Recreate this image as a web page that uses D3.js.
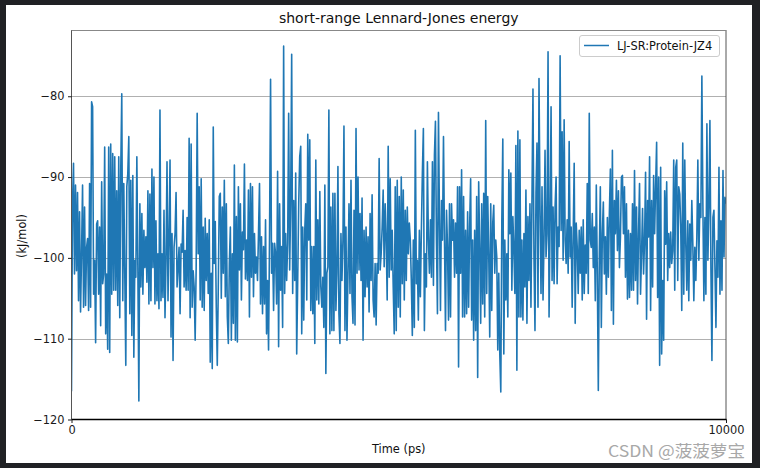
<!DOCTYPE html>
<html><head><meta charset="utf-8">
<script src="https://cdn.jsdelivr.net/npm/d3@7"></script>
<style>html,body{margin:0;padding:0;background:#202124;} svg{display:block}</style>
</head><body><svg id="c" width="760" height="468"></svg>
<script>
const title = "short-range Lennard-Jones energy";
const xLabel = "Time (ps)";
const yLabel = "(kJ/mol)";
const seriesName = "LJ-SR:Protein-JZ4";
const watermark = "CSDN @菠菠萝宝";
const xTicks = [0, 10000];
const yTicks = [-120, -110, -100, -90, -80];
const timeRange = [0, 10000];
const yRange = [-120, -71.8];

const energyA = [-116.5,-93.3,-88.3,-102.0,-91.0,-101.6,-91.9,-105.3,-94.3,-106.7,-99.5,-91.0,-106.1,-93.7,-105.9,-98.7,-97.6,-106.5,-90.8,-106.1,-80.7,-81.3,-104.5,-100.3,-110.5,-95.8,-95.4,-104.5,-96.2,-108.4,-90.6,-103.2,-102.0,-86.3,-109.4,-102.0,-111.3,-86.3,-111.7,-85.9,-104.5,-87.1,-104.0,-87.5,-104.0,-91.7,-105.9,-87.5,-107.4,-89.2,-79.7,-105.3,-90.8,-102.0,-113.3,-91.2,-89.6,-85.0,-106.9,-90.4,-109.6,-89.8,-112.3,-100.3,-102.4,-87.5,-101.2,-117.7,-93.3,-103.6,-94.5,-104.5,-96.6,-101.2,-97.4,-103.0,-91.7,-105.7,-92.1,-105.3,-89.0,-101.2,-90.0,-105.7,-95.4,-105.3,-99.5,-106.3,-81.7,-105.3,-99.5,-104.9,-94.1,-107.4,-100.3,-88.1,-105.3,-97.4,-87.9,-109.8,-97.0,-112.7,-98.7,-97.0,-91.9,-103.6,-101.2,-98.7,-106.9,-98.3,-99.3,-94.1,-103.6,-99.1,-104.0,-95.0,-104.0,-85.2,-107.4,-85.9,-106.1,-101.6,-103.6,-110.2,-101.2];
const energyB = [-82.1,-99.5,-91.2,-105.2,-90.2,-106.1,-96.2,-106.5,-95.1,-102.8,-97.0,-104.4,-95.3,-112.9,-101.9,-113.7,-83.8,-100.7,-95.5,-106.1,-113.3,-103.6,-92.4,-92.0,-105.0,-93.7,-101.9,-90.4,-104.8,-93.3,-107.3,-110.6,-100.7,-96.2,-110.2,-99.5,-108.1,-88.5,-110.2,-94.9,-110.4,-91.2,-101.5,-93.3,-105.2,-96.8,-99.0,-88.4,-102.6,-97.8,-102.8,-91.6,-107.3,-90.8,-102.4,-91.2,-104.8,-97.0,-101.9,-99.9,-102.8,-97.0,-90.8,-105.7,-97.4,-106.9,-98.6,-105.7,-95.3,-109.4,-102.8,-111.4,-97.0,-77.9,-101.9,-98.2,-106.5,-98.2,-99.5,-105.7,-89.3,-111.0,-93.3,-104.0,-98.6,-108.6,-73.8,-104.4,-97.0,-102.8,-98.2,-82.1,-101.5,-93.3,-74.8,-104.4,-92.9,-102.8,-89.5,-111.9,-102.8,-93.3,-87.5,-86.2,-109.4,-96.2,-107.7,-96.6,-93.3,-105.2,-84.7,-97.8,-85.4,-106.5,-98.6,-106.9,-98.6,-110.6,-87.9,-105.2,-95.3,-105.7,-91.8,-103.6,-106.1,-102.4,-108.6,-91.0,-114.3,-101.9];
const energyC = [-101.1,-81.7,-109.4,-93.7,-109.0,-92.0,-109.0,-92.0,-106.5,-101.9,-88.7,-106.9,-110.6,-97.0,-102.8,-97.8,-83.7,-109.0,-96.2,-110.2,-101.9,-93.3,-104.4,-90.4,-104.8,-108.1,-94.1,-108.3,-84.0,-101.9,-90.0,-101.5,-94.5,-102.8,-92.6,-110.2,-96.6,-104.8,-96.2,-103.6,-97.4,-106.7,-94.5,-102.8,-92.2,-105.2,-107.3,-100.7,-108.3,-100.7,-101.9,-87.7,-101.5,-99.5,-96.2,-91.6,-101.1,-93.3,-97.8,-105.2,-86.2,-102.4,-90.2,-101.5,-96.6,-103.6,-109.4,-91.2,-109.0,-90.4,-106.1,-92.4,-107.3,-90.0,-103.2,-91.6,-105.2,-94.1,-102.8,-93.7,-99.5,-95.7,-97.8,-102.8,-109.6,-97.8,-108.6,-84.2,-103.2,-100.3,-107.7,-96.6,-104.8,-96.6,-89.5,-84.0,-109.0,-99.5,-103.6,-88.1,-97.8,-101.9,-95.3,-102.4,-88.1,-103.4,-87.3,-83.1,-97.8,-106.9,-82.0,-95.3,-106.5,-92.9,-97.8,-85.0,-97.8,-109.0,-94.1,-98.6,-107.7,-93.3,-107.3,-93.3,-97.8,-95.3,-102.4,-95.7,-101.9,-91.2,-113.5];
const energyD = [-91.2,-101.9,-89.1,-107.3,-92.4,-107.3,-96.6,-106.9,-94.3,-106.1,-96.2,-90.2,-107.7,-97.8,-110.2,-96.6,-109.0,-92.4,-114.8,-90.6,-98.6,-108.1,-93.3,-105.7,-92.0,-107.3,-83.0,-104.4,-92.4,-99.5,-109.8,-93.3,-106.5,-95.7,-93.5,-101.9,-97.8,-99.9,-111.4,-101.9,-111.9,-116.6,-95.7,-85.3,-111.9,-97.8,-105.2,-99.5,-107.3,-89.1,-97.0,-89.5,-104.0,-94.9,-99.0,-104.4,-86.1,-113.9,-84.3,-107.3,-85.4,-107.3,-97.8,-107.7,-97.0,-103.6,-91.6,-108.1,-94.9,-102.8,-93.3,-106.1,-92.9,-79.1,-99.9,-109.0,-92.0,-85.8,-106.1,-77.8,-93.7,-104.4,-91.2,-105.2,-97.8,-86.7,-99.9,-97.0,-74.5,-107.3,-96.2,-81.3,-102.8,-93.7,-103.2,-93.7,-90.0,-103.2,-96.2,-98.6,-75.0,-96.6,-84.4,-100.3,-82.9,-97.8,-100.7,-95.3,-101.9,-85.6,-99.9,-96.2,-106.1,-97.4,-88.3,-108.1,-95.7,-98.6,-104.4,-96.6,-101.9,-96.2,-105.2,-95.3,-104.4,-98.4,-101.9,-90.8,-104.4,-82.1,-97.8];
const energyE = [-98.7,-94.5,-101.2,-96.2,-105.3,-91.0,-102.0,-116.4,-99.5,-91.2,-108.6,-97.0,-93.1,-102.0,-97.4,-104.5,-95.0,-102.4,-94.5,-89.0,-106.5,-86.7,-108.2,-92.9,-97.0,-90.4,-99.1,-91.7,-101.2,-97.4,-90.0,-89.8,-97.0,-91.2,-102.4,-93.3,-105.1,-96.6,-104.9,-97.0,-104.0,-93.3,-104.0,-89.2,-102.8,-93.7,-105.7,-97.0,-90.8,-104.5,-99.5,-93.9,-102.0,-97.9,-89.4,-107.6,-92.9,-97.4,-87.5,-106.5,-92.9,-103.6,-89.8,-97.0,-91.2,-85.7,-104.9,-90.0,-113.3,-88.8,-111.9,-102.8,-110.2,-91.7,-98.3,-90.6,-102.8,-97.0,-101.2,-96.8,-100.7,-99.1,-87.9,-104.0,-88.8,-87.9,-102.8,-91.2,-92.1,-96.2,-106.5,-85.8,-104.5,-87.9,-98.3,-104.0,-95.4,-105.3,-95.8,-100.3,-92.9,-98.3,-105.3,-98.7,-102.8,-97.4,-87.9,-100.3,-93.3,-95.0,-77.5,-93.3,-105.3,-95.0,-104.5,-83.4,-100.3,-93.7,-83.0,-101.2,-112.7,-95.0,-94.1,-101.2,-108.6,-97.9,-102.4,-88.8,-104.5,-95.4,-104.0,-89.2,-99.9,-92.5,-93.3];

const energy = energyA.concat(energyB, energyC, energyD, energyE);
const step = (timeRange[1] - timeRange[0]) / (energy.length - 1);
const data = energy.map((v, i) => ({t: timeRange[0] + i * step, v}));

const svg = d3.select("#c");
const font = "'DejaVu Sans', sans-serif";
const L = 71.5, R = 726, T = 30, B = 419.5;

svg.append("rect").attr("x", 6).attr("y", 5).attr("width", 746).attr("height", 458).attr("fill", "#ffffff");

const x = d3.scaleLinear().domain(timeRange).range([L, R]);
const y = d3.scaleLinear().domain(yRange).range([B, T]);

// grid
svg.append("g").selectAll("line").data(yTicks.filter(d => d > yRange[0])).join("line")
  .attr("x1", L).attr("x2", R)
  .attr("y1", d => Math.round(y(d)) + 0.5).attr("y2", d => Math.round(y(d)) + 0.5)
  .attr("stroke", "#b0b0b0").attr("stroke-width", 1);

// clip
svg.append("clipPath").attr("id", "clip").append("rect")
  .attr("x", L).attr("y", T).attr("width", R - L).attr("height", B - T);

const line = d3.line().x(d => x(d.t)).y(d => y(d.v));
svg.append("path").datum(data)
  .attr("clip-path", "url(#clip)")
  .attr("d", line).attr("fill", "none")
  .attr("stroke", "#1f77b4").attr("stroke-width", 1.6).attr("stroke-linejoin", "round");

// spines
svg.append("line").attr("x1", L).attr("x2", L).attr("y1", T).attr("y2", B).attr("stroke", "#555").attr("stroke-width", 1);
svg.append("line").attr("x1", R).attr("x2", R).attr("y1", T).attr("y2", B).attr("stroke", "#555").attr("stroke-width", 1);
svg.append("line").attr("x1", L).attr("x2", R).attr("y1", T + 0.5).attr("y2", T + 0.5).attr("stroke", "#888").attr("stroke-width", 1);
svg.append("line").attr("x1", L).attr("x2", R + 0.5).attr("y1", B).attr("y2", B).attr("stroke", "#000").attr("stroke-width", 1.3);

// axes
const yAxis = d3.axisLeft(y).tickValues(yTicks).tickSize(3.5).tickPadding(3.5).tickFormat(d3.format("d"));
const gy = svg.append("g").attr("transform", `translate(${L},0)`).call(yAxis);
gy.select(".domain").remove();
gy.selectAll("line").attr("stroke", "#000").attr("stroke-width", 0.9);
gy.selectAll("text").attr("font-family", font).attr("font-size", 11.4).attr("fill", "#1a1a1a");

const xAxis = d3.axisBottom(x).tickValues(xTicks).tickSize(3.5).tickPadding(3).tickFormat(d3.format("d"));
const gx = svg.append("g").attr("transform", `translate(0,${B})`).call(xAxis);
gx.select(".domain").remove();
gx.selectAll("line").attr("stroke", "#000").attr("stroke-width", 0.9);
gx.selectAll("text").attr("font-family", font).attr("font-size", 11.4).attr("fill", "#1a1a1a");

// labels
svg.append("text").attr("x", (L + R) / 2).attr("y", 23).attr("text-anchor", "middle")
  .attr("font-family", font).attr("font-size", 14).attr("fill", "#111").text(title);
svg.append("text").attr("x", (L + R) / 2).attr("y", 453).attr("text-anchor", "middle")
  .attr("font-family", font).attr("font-size", 11.4).attr("fill", "#111").text(xLabel);
svg.append("text").attr("transform", "translate(26,236) rotate(-90)").attr("text-anchor", "middle")
  .attr("font-family", font).attr("font-size", 11.4).attr("fill", "#111").text(yLabel);

// legend
const lg = svg.append("g");
lg.append("rect").attr("x", 579.5).attr("y", 35.5).attr("width", 140).attr("height", 21).attr("rx", 2.5)
  .attr("fill", "#fff").attr("fill-opacity", 0.8).attr("stroke", "#cccccc").attr("stroke-width", 1);
lg.append("line").attr("x1", 584).attr("x2", 609).attr("y1", 45.5).attr("y2", 45.5)
  .attr("stroke", "#1f77b4").attr("stroke-width", 1.5);
lg.append("text").attr("x", 617).attr("y", 50).attr("font-family", font).attr("font-size", 11.4)
  .attr("fill", "#111").text(seriesName);

// watermark
svg.append("text").attr("x", 608).attr("y", 457).attr("font-family", "'Noto Sans CJK SC', sans-serif")
  .attr("font-size", 16).attr("fill", "#a8a8a8").attr("textLength", 137).attr("lengthAdjust", "spacingAndGlyphs")
  .text(watermark);
</script></body></html>
